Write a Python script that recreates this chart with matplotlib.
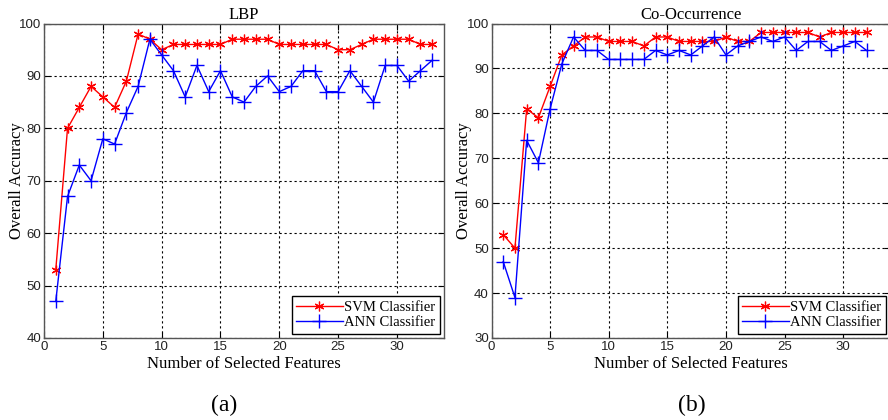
import matplotlib
matplotlib.use("Agg")
import matplotlib.pyplot as plt
from matplotlib import font_manager

# ---------------- data ----------------
lbp_x = list(range(1, 34))
lbp_svm = [53, 80, 84, 88, 86, 84, 89, 98, 97, 95, 96, 96, 96, 96, 96, 97, 97,
           97, 97, 96, 96, 96, 96, 96, 95, 95, 96, 97, 97, 97, 97, 96, 96]
lbp_ann = [47, 67, 73, 70, 78, 77, 83, 88, 97, 94, 91, 86, 92, 87, 91, 86, 85,
           88, 90, 87, 88, 91, 91, 87, 87, 91, 88, 85, 92, 92, 89, 91, 93]

co_x = list(range(1, 33))
co_svm = [53, 50, 81, 79, 86, 93, 95, 97, 97, 96, 96, 96, 95, 97, 97, 96, 96,
          96, 96, 97, 96, 96, 98, 98, 98, 98, 98, 97, 98, 98, 98, 98]
co_ann = [47, 39, 74, 69, 81, 91, 97, 94, 94, 92, 92, 92, 92, 94, 93, 94, 93,
          95, 97, 93, 95, 96, 97, 96, 97, 94, 96, 96, 94, 95, 96, 94]

x_ticks = [0, 5, 10, 15, 20, 25, 30]
lbp_yticks = [40, 50, 60, 70, 80, 90, 100]
co_yticks = [30, 40, 50, 60, 70, 80, 90, 100]
series_labels = ["SVM Classifier", "ANN Classifier"]
titles = ["LBP", "Co-Occurrence"]
panel_labels = ["(a)", "(b)"]
xlabel = "Number of Selected Features"
ylabel = "Overall Accuracy"

# ---------------- fonts ----------------
avail = {f.name for f in font_manager.fontManager.ttflist}
serif = ["Liberation Serif", "DejaVu Serif"]
tickfont = ["Liberation Sans Narrow", "Liberation Sans", "DejaVu Sans"] if "Liberation Sans Narrow" in avail else ["Liberation Sans", "DejaVu Sans"]

W, H = 888, 420
fig = plt.figure(figsize=(W / 100, H / 100), dpi=100)

def px_axes(left, top, right, bottom):
    return fig.add_axes([left / W, 1 - bottom / H, (right - left) / W, (bottom - top) / H])

axes_specs = [
    (px_axes(44, 23.5, 444, 338), lbp_x, lbp_svm, lbp_ann, (40, 100), lbp_yticks, 25),
    (px_axes(491.5, 23.5, 890, 338), co_x, co_svm, co_ann, (30, 100), co_yticks, 472),
]

for i, (ax, xs, svm, ann, ylim, yt, ylab_px) in enumerate(axes_specs):
    ax.plot(xs, svm, color="red", lw=1.0, marker=(6, 2, 0), ms=7, mew=0.9,
            label=series_labels[0])
    ax.plot(xs, ann, color="blue", lw=1.0, marker="+", ms=10, mew=1.0,
            label=series_labels[1])
    ax.set_xlim(0, 34)
    ax.set_ylim(*ylim)
    ax.set_xticks(x_ticks)
    ax.set_yticks(yt)
    ax.grid(True, color="black", linestyle=(0, (2.0, 2.5)), linewidth=0.8)
    ax.tick_params(direction="in", length=4, width=0.8, top=True, right=True,
                   labelsize=9.5, pad=2, labelcolor="#222222")
    for lab in ax.get_xticklabels() + ax.get_yticklabels():
        lab.set_family(tickfont)
    for sp in ax.spines.values():
        sp.set_color("#555555")
        sp.set_linewidth(1.0)
    ax.set_title(titles[i], fontsize=12, family=serif, pad=3)
    ax.set_xlabel(xlabel, fontsize=12, family=serif, labelpad=2)
    ax.set_ylabel(ylabel, fontsize=12, family=serif)
    bb = ax.get_position()
    ax.yaxis.set_label_coords((ylab_px / W - bb.x0) / bb.width, 0.5)
    leg = ax.legend(loc="lower right", prop={"family": serif, "size": 10.5},
                    fancybox=False, framealpha=1, edgecolor="black",
                    borderaxespad=0.3, handlelength=3.2, handletextpad=0.1,
                    borderpad=0.3, labelspacing=0.15)
    leg.get_frame().set_linewidth(1.0)

fig.text(224 / W, 1 - 405 / H, panel_labels[0], ha="center", va="center",
         fontsize=17, family=serif)
fig.text(692 / W, 1 - 405 / H, panel_labels[1], ha="center", va="center",
         fontsize=17, family=serif)

fig.savefig("out.png", dpi=100, facecolor="white")
